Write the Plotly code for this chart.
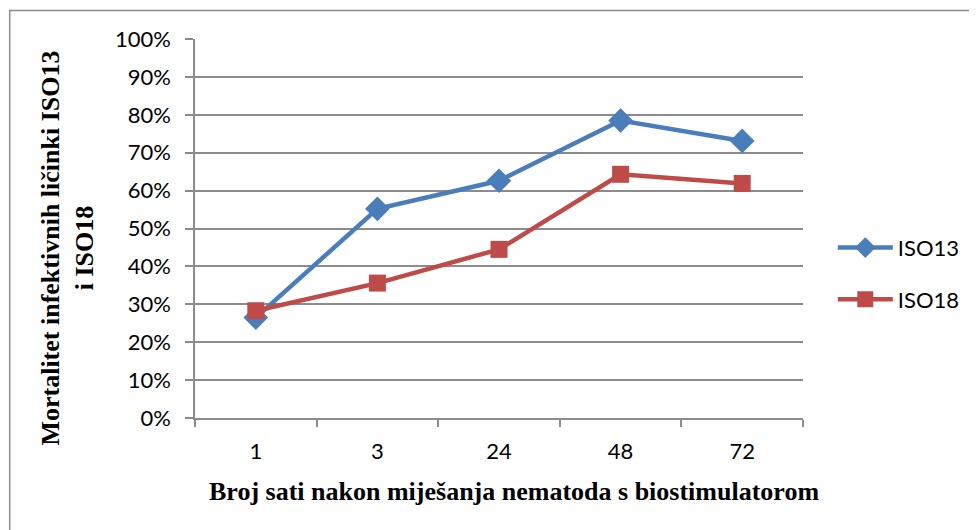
import plotly.graph_objects as go

categories = ["1", "3", "24", "48", "72"]
iso13 = [0.265, 0.552, 0.626, 0.785, 0.731]
iso18 = [0.283, 0.356, 0.445, 0.643, 0.619]
series_names = ["ISO13", "ISO18"]
y_ticks = [i / 10 for i in range(11)]
y_ticktext = [f"{i*10}%" for i in range(11)]

BLUE = "#4A7EBB"
RED = "#BE4B48"
GRID = "#8C8C8C"
TICKFONT = dict(family="Lato, Open Sans, sans-serif", size=22, color="#000000")
TITLEFONT = dict(family="Liberation Serif, Times New Roman, serif", size=26, color="#000000")

fig = go.Figure()
fig.add_trace(go.Scatter(
    x=categories, y=iso13, name=series_names[0], mode="lines+markers",
    line=dict(color=BLUE, width=4.5),
    marker=dict(symbol="diamond", size=19, color=BLUE),
    legendgroup="a",
))
fig.add_trace(go.Scatter(
    x=categories, y=iso18, name=series_names[1], mode="lines+markers",
    line=dict(color=RED, width=4.5),
    marker=dict(symbol="square", size=17, color=RED),
    legendgroup="b",
))

OFF = 8  # page body margin
W, H = 977 - OFF, 530 - OFF
L = 195 - OFF
T = 39 - OFF
R = W - (807 - OFF)
B = H - (418.5 - OFF)
pw, ph = W - L - R, H - T - B

def px(x):
    return (x - OFF - L) / pw

def py(y):
    return (H - B - (y - OFF)) / ph

fig.update_layout(
    width=W, height=H,
    margin=dict(l=L, r=R, t=T, b=B, pad=0),
    paper_bgcolor="white", plot_bgcolor="white",
    showlegend=True,
    legend=dict(
        x=px(837), y=py(227), xanchor="left", yanchor="top",
        font=TICKFONT, traceorder="grouped", tracegroupgap=20,
        itemwidth=55, bgcolor="rgba(0,0,0,0)",
    ),
    xaxis=dict(
        type="category", range=[-0.5, len(categories) - 0.5],
        tickson="boundaries", ticks="outside", ticklen=7,
        tickcolor=GRID, tickwidth=1.5, showline=True, linecolor=GRID, linewidth=1.5,
        showgrid=False, tickfont=TICKFONT, ticklabelstandoff=13,
    ),
    yaxis=dict(
        range=[0, 1], tickvals=y_ticks, ticktext=y_ticktext,
        ticks="outside", ticklen=8, tickcolor=GRID, tickwidth=1.5,
        showline=True, linecolor=GRID, linewidth=1.5,
        showgrid=True, gridcolor=GRID, gridwidth=1.5, zeroline=False,
        tickfont=TICKFONT, ticklabelstandoff=10,
    ),
    annotations=[
        dict(text="<b>Mortalitet infektivnih ličinki ISO13<br>i ISO18</b>",
             xref="paper", yref="paper", x=px(67), y=py(248),
             xanchor="center", yanchor="middle", textangle=-90,
             showarrow=False, font=TITLEFONT, align="center"),
        dict(text="<b>Broj sati nakon miješanja nematoda s biostimulatorom</b>",
             xref="paper", yref="paper", x=px(516), y=py(492),
             xanchor="center", yanchor="middle",
             showarrow=False, font=TITLEFONT),
    ],
    shapes=[
        dict(type="rect", xref="paper", yref="paper",
             x0=px(8.5), x1=px(1000), y0=py(560), y1=py(10.5),
             line=dict(color="#8C8C8C", width=1.5), fillcolor="rgba(0,0,0,0)", layer="below"),
    ],
)

fig.write_html("out.html")
